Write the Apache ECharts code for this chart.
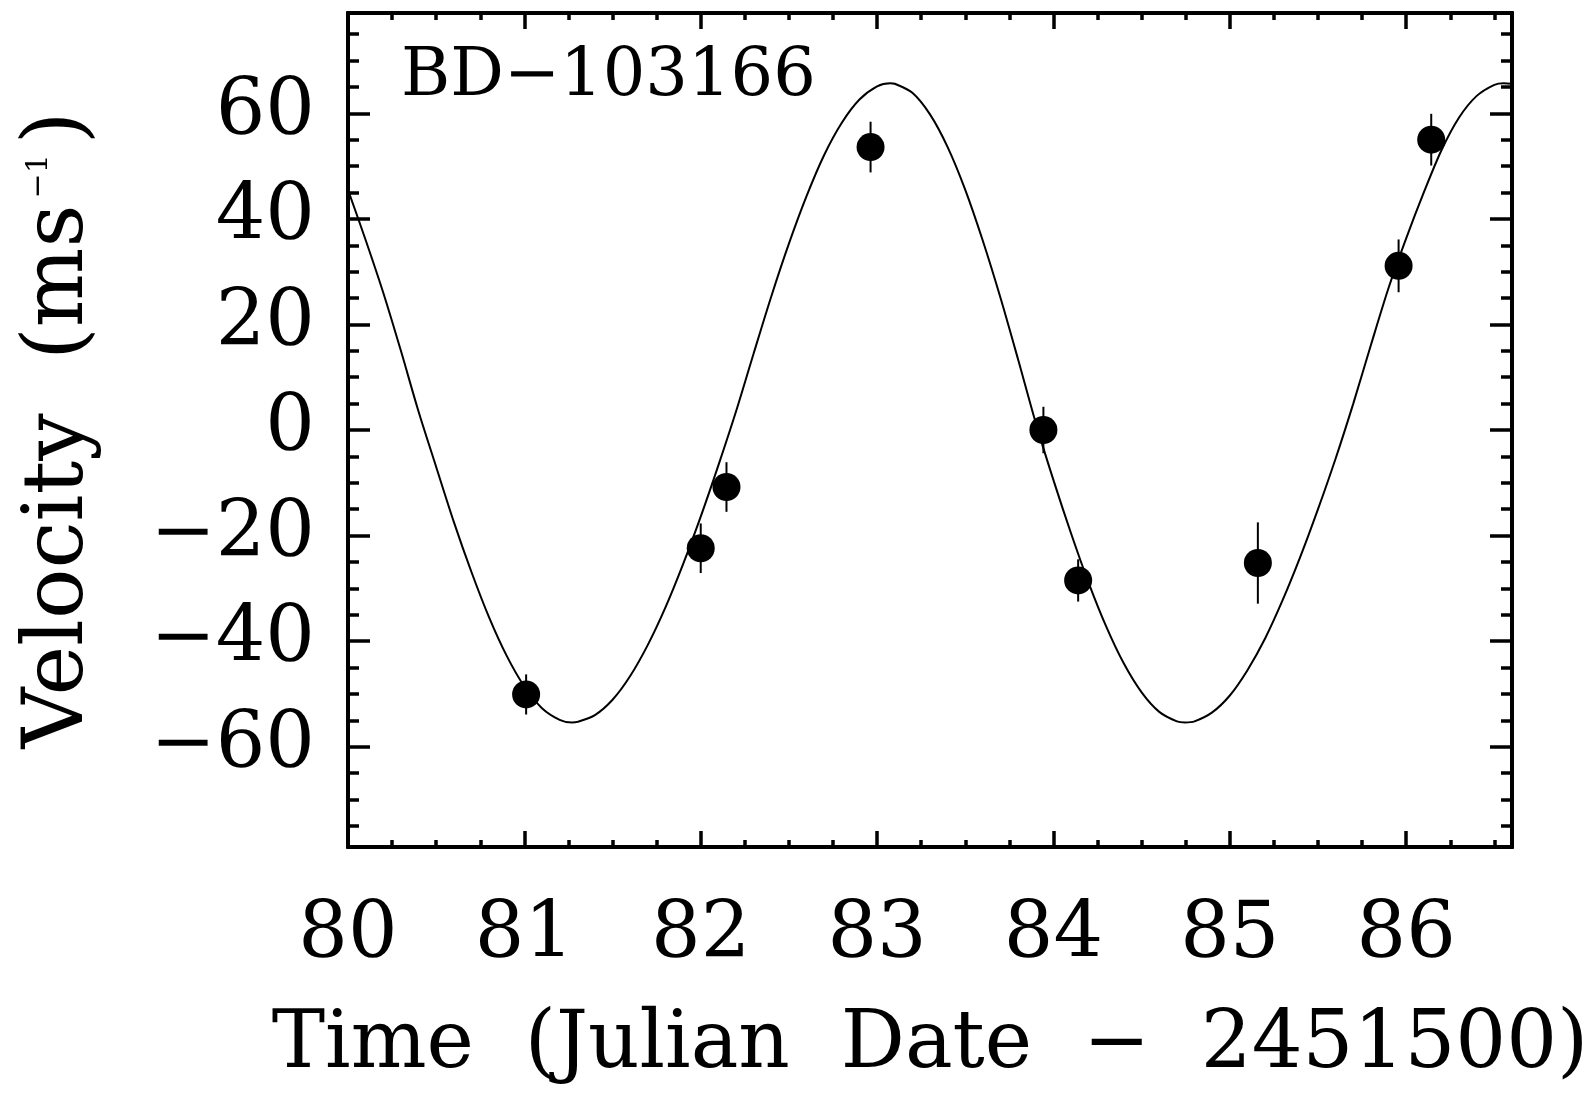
<!DOCTYPE html>
<html>
<head>
<meta charset="utf-8">
<title>BD-103166 radial velocity</title>
<script src="https://cdn.jsdelivr.net/npm/echarts@6/dist/echarts.min.js"></script>
<style>
  html, body { margin: 0; padding: 0; background: #fff; }
  #chart { width: 1595px; height: 1103px; }
</style>
</head>
<body>
<div id="chart"></div>
<script>
// observations (days after JD 2451500, m/s)
const obsTime = [81.01, 82.0, 82.146, 82.963, 83.943, 84.14, 85.159, 85.957, 86.142]
const obsVel = [-50.1, -22.4, -10.8, 53.6, 0.0, -28.5, -25.2, 31.1, 55.0]
const obsErr = [3.8, 4.7, 4.7, 4.8, 4.4, 4.0, 7.7, 5.0, 4.9]

// orbit fit
const fitTime = [80.0, 80.1, 80.2, 80.3, 80.4, 80.5, 80.6, 80.7, 80.8, 80.9, 81.0, 81.1, 81.2, 81.27,
  81.3, 81.4, 81.5, 81.6, 81.7, 81.8, 81.9, 82.0, 82.1, 82.2, 82.3, 82.4, 82.5, 82.6, 82.7, 82.8, 82.9, 83.0,
  83.075, 83.1, 83.2, 83.3, 83.4, 83.5, 83.6, 83.7, 83.8, 83.9, 84.0, 84.1, 84.2, 84.3, 84.4, 84.5, 84.6, 84.7,
  84.746, 84.8, 84.9, 85.0, 85.1, 85.2, 85.3, 85.4, 85.5, 85.6, 85.7, 85.8, 85.9, 86.0, 86.1, 86.2, 86.3, 86.4, 86.5,
  86.553, 86.6]
const fitVel = [45.5, 36.0, 26.0, 15.0, 3.5, -7.0, -17.4, -26.9, -35.5, -42.8, -48.6, -52.7, -54.9, -55.4,
  -55.3, -54.0, -51.1, -46.6, -40.7, -33.6, -25.4, -16.4, -6.7, 3.5, 14.5, 25.3, 35.3, 44.3, 52.1, 58.2, 62.6, 65.1,
  65.7, 65.6, 63.9, 59.8, 53.6, 45.5, 35.8, 25.0, 13.3, 1.3, -9.5, -19.6, -29.0, -37.3, -44.3, -49.7, -53.4, -55.2,
  -55.4, -55.2, -53.5, -50.3, -45.5, -39.5, -32.2, -24.0, -15.0, -5.4, 5.0, 16.1, 26.9, 36.3, 45.0, 53.0, 59.2, 63.3, 65.4,
  65.7, 65.6]

// axes
const timeRange = [80, 86.6]
const velRange = [-79, 79]
const timeTicks = [80, 81, 82, 83, 84, 85, 86]
const velTicks = [-60, -40, -20, 0, 20, 40, 60]

const timeMinor = []
for (let t = 80.25; t < 86.6; t += 0.25) timeMinor.push(+t.toFixed(2))
const velMinor = []
for (let v = -75; v <= 75; v += 5) velMinor.push(v)

const FONT = 'DejaVu Serif'
const BLACK = '#000'

const minus = (v) => (v < 0 ? '\u2212' + Math.abs(v) : String(v))

const makeAxis = (position, range, ticks, tickLen, label) => ({
  type: 'value',
  position,
  min: range[0],
  max: range[1],
  axisLine: { show: true, onZero: false, lineStyle: { color: BLACK, width: 4 } },
  axisTick: {
    show: true,
    inside: true,
    length: tickLen,
    customValues: ticks,
    lineStyle: { color: BLACK, width: 3.5 },
  },
  axisLabel: label || { show: false },
  splitLine: { show: false },
})

const chart = echarts.init(document.getElementById('chart'))

const xMain = makeAxis('bottom', timeRange, timeTicks, 16, {
  show: true,
  customValues: timeTicks,
  margin: 51,
  fontFamily: FONT,
  fontSize: 78,
  lineHeight: 78,
  color: BLACK,
})
// wide spacing like the original plot font
xMain.name = 'Time  (Julian  Date  \u2212  2451500)'
xMain.nameLocation = 'middle'
xMain.nameGap = 199
xMain.nameTextStyle = {
  fontFamily: FONT, fontSize: 80, color: BLACK, align: 'center', verticalAlign: 'middle',
}

const yMain = makeAxis('left', velRange, velTicks, 22, {
  show: true,
  customValues: velTicks,
  margin: 33,
  fontFamily: FONT,
  fontSize: 78,
  lineHeight: 78,
  padding: [8, 0, 0, 0],
  color: BLACK,
  formatter: minus,
})
yMain.name = '{t|Velocity  (ms}{s|\u22121}{t|)}'
yMain.nameLocation = 'middle'
yMain.nameRotate = 90
yMain.nameGap = 288
yMain.nameTextStyle = {
  align: 'center',
  verticalAlign: 'middle',
  rich: {
    t: { fontFamily: FONT, fontSize: 84, lineHeight: 96, color: BLACK },
    s: { fontFamily: FONT, fontSize: 30, color: BLACK, verticalAlign: 'top', padding: [12, 10, 0, 6] },
  },
}

const option = {
  animation: false,
  backgroundColor: '#fff',
  title: {
    text: 'BD\u2212103166',
    left: 401,
    top: 44,
    padding: 0,
    textStyle: { fontFamily: FONT, fontSize: 67, lineHeight: 67, fontWeight: 'normal', color: BLACK },
  },
  grid: { left: 348, right: 83, top: 13, bottom: 256 },
  xAxis: [
    xMain,
    makeAxis('bottom', timeRange, timeMinor, 7),
    makeAxis('top', timeRange, timeTicks, 16),
    makeAxis('top', timeRange, timeMinor, 7),
  ],
  yAxis: [
    yMain,
    makeAxis('left', velRange, velMinor, 11),
    makeAxis('right', velRange, velTicks, 22),
    makeAxis('right', velRange, velMinor, 11),
  ],
  series: [
    {
      name: 'fit',
      type: 'line',
      data: fitTime.map((t, i) => [t, fitVel[i]]),
      smooth: 0.3,
      showSymbol: false,
      lineStyle: { color: BLACK, width: 2 },
      z: 2,
    },
    {
      name: 'errors',
      type: 'custom',
      data: obsTime.map((t, i) => [t, obsVel[i], obsErr[i]]),
      encode: { x: 0, y: 1 },
      renderItem: (params, api) => {
        const t = api.value(0)
        const v = api.value(1)
        const e = api.value(2)
        const hi = api.coord([t, v + e])
        const lo = api.coord([t, v - e])
        return {
          type: 'line',
          shape: { x1: hi[0], y1: hi[1], x2: lo[0], y2: lo[1] },
          style: { stroke: BLACK, lineWidth: 2 },
        }
      },
      z: 3,
    },
    {
      name: 'velocity',
      type: 'scatter',
      data: obsTime.map((t, i) => [t, obsVel[i]]),
      symbol: 'circle',
      symbolSize: 28,
      itemStyle: { color: BLACK, opacity: 1 },
      z: 4,
    },
  ],
}

chart.setOption(option)
</script>
</body>
</html>
